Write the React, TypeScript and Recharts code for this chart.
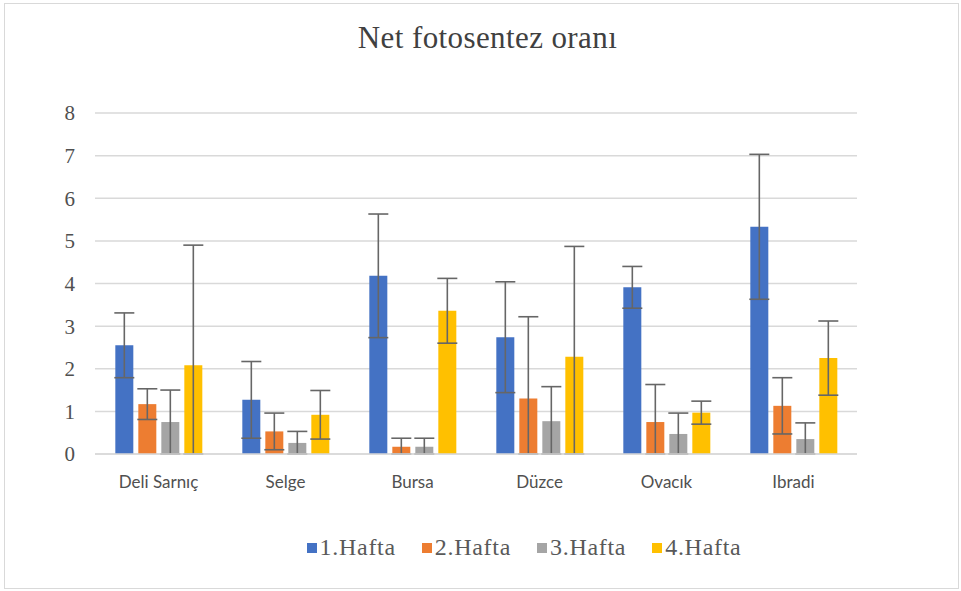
import React from 'react';
import { BarChart, Bar, XAxis, YAxis, CartesianGrid, ErrorBar, Legend } from 'recharts';

// Values
const locations = ['Deli Sarnıç', 'Selge', 'Bursa', 'Düzce', 'Ovacık', 'Ibradi'];
const week1 = [2.55, 1.27, 4.18, 2.74, 3.91, 5.33];
const week2 = [1.17, 0.53, 0.17, 1.30, 0.75, 1.13];
const week3 = [0.75, 0.26, 0.17, 0.77, 0.47, 0.35];
const week4 = [2.08, 0.92, 3.36, 2.28, 0.97, 2.25];
const err1 = [0.76, 0.90, 1.45, 1.30, 0.49, 1.70];
const err2 = [0.36, 0.43, 0.20, 1.92, 0.88, 0.66];
const err3 = [0.75, 0.27, 0.20, 0.81, 0.49, 0.38];
const err4 = [2.82, 0.57, 0.76, 2.59, 0.27, 0.87];
const yTicks = [0, 1, 2, 3, 4, 5, 6, 7, 8];

const series = [
  { key: 'w1', name: '1.Hafta', color: '#4472C4', values: week1, errors: err1 },
  { key: 'w2', name: '2.Hafta', color: '#ED7D31', values: week2, errors: err2 },
  { key: 'w3', name: '3.Hafta', color: '#A5A5A5', values: week3, errors: err3 },
  { key: 'w4', name: '4.Hafta', color: '#FFC000', values: week4, errors: err4 },
];

// error bars stop at the axis (0), like the original
const data = locations.map((loc, i) => {
  const row: any = { name: loc };
  series.forEach((s) => {
    row[s.key] = s.values[i];
    row[s.key + 'Err'] = [Math.min(s.errors[i], s.values[i]), s.errors[i]];
  });
  return row;
});

const serif = '"Liberation Serif", "Times New Roman", serif';

const LegendContent = () => (
  <div style={{ display: 'flex', justifyContent: 'center', gap: 26, fontFamily: serif, fontSize: 24, letterSpacing: 0.7, color: '#595959' }}>
    {series.map((s) => (
      <div key={s.key} style={{ display: 'flex', alignItems: 'center', gap: 3 }}>
        <div style={{ width: 10, height: 10, background: s.color }} />
        <span>{s.name}</span>
      </div>
    ))}
  </div>
);

export default function App() {
  return (
    <div style={{ position: 'absolute', left: 0, top: 0, width: 961, height: 591, background: '#fff' }}>
      <div style={{ position: 'absolute', left: 4, top: 3, width: 953, height: 584, border: '1px solid #d9d9d9' }} />
      <div style={{ position: 'absolute', top: 20, left: 0, width: 975, textAlign: 'center', fontFamily: serif, fontSize: 31, letterSpacing: 0.4, color: '#404040' }}>
        Net fotosentez oranı
      </div>
      <BarChart
        width={961}
        height={591}
        data={data}
        margin={{ top: 113, right: 104, bottom: 80, left: 35 }}
        barCategoryGap="16%"
        barGap={5}
        style={{ position: 'absolute', left: 0, top: 0 }}
      >
        <CartesianGrid vertical={false} stroke="#d9d9d9" strokeWidth={1.5} />
        <XAxis
          dataKey="name"
          tickLine={false}
          axisLine={{ stroke: '#d9d9d9', strokeWidth: 1.5 }}
          tick={{ fill: '#505050', fontSize: 17, fontFamily: 'Lato, sans-serif' }}
          tickMargin={16}
          height={30}
        />
        <YAxis
          domain={[0, 8]}
          ticks={yTicks}
          width={60}
          tickLine={false}
          axisLine={false}
          tick={{ fill: '#505050', fontSize: 21, fontFamily: serif }}
          tickMargin={14}
        />
        {series.map((s) => (
          <Bar key={s.key} dataKey={s.key} name={s.name} fill={s.color} isAnimationActive={false}>
            <ErrorBar dataKey={s.key + 'Err'} width={10} stroke="#666666" strokeWidth={1.6} direction="y" />
          </Bar>
        ))}
        <Legend content={<LegendContent />} wrapperStyle={{ position: 'absolute', top: 534, left: 0, width: 1048 }} />
      </BarChart>
    </div>
  );
}
